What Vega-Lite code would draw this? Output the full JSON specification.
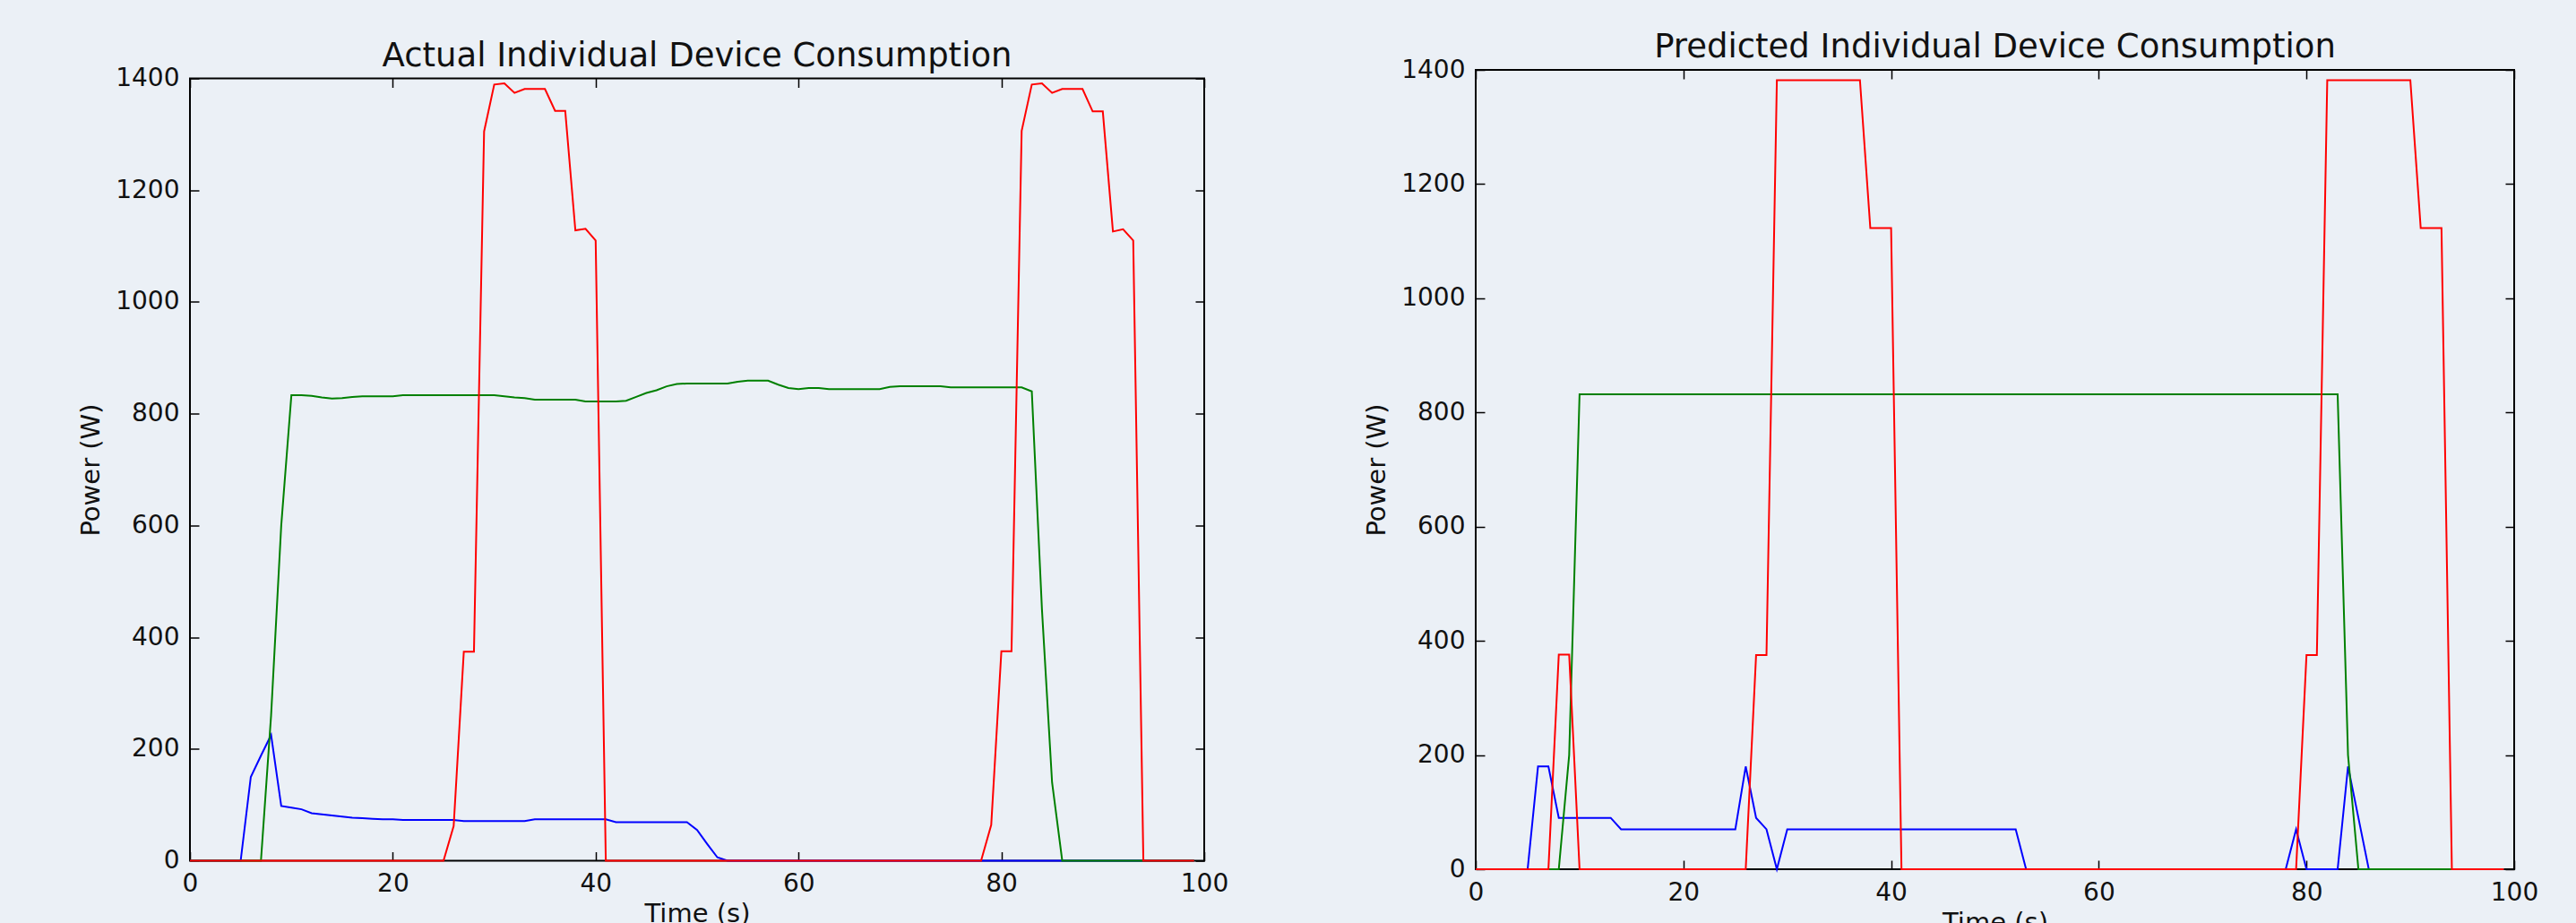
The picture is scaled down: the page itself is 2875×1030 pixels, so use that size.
{
  "$schema": "https://vega.github.io/schema/vega-lite/v6.json",
  "background": "#EBF0F6",
  "padding": {"left": 86, "top": 33, "right": 41, "bottom": 5},
  "spacing": 149,
  "center": true,
  "datasets": {
    "actual": [
      {"t":0,"b":0,"g":0,"r":0},{"t":1,"b":0,"g":0,"r":0},{"t":2,"b":0,"g":0,"r":0},{"t":3,"b":0,"g":0,"r":0},{"t":4,"b":0,"g":0,"r":0},
      {"t":5,"b":0,"g":0,"r":0},{"t":6,"b":150,"g":0,"r":0},{"t":7,"b":188,"g":0,"r":0},{"t":8,"b":225,"g":260,"r":0},{"t":9,"b":98,"g":600,"r":0},
      {"t":10,"b":95,"g":833,"r":0},{"t":11,"b":92,"g":833,"r":0},{"t":12,"b":85,"g":832,"r":0},{"t":13,"b":83,"g":829,"r":0},{"t":14,"b":81,"g":827,"r":0},
      {"t":15,"b":79,"g":828,"r":0},{"t":16,"b":77,"g":830,"r":0},{"t":17,"b":76,"g":831,"r":0},{"t":18,"b":75,"g":831,"r":0},{"t":19,"b":74,"g":831,"r":0},
      {"t":20,"b":74,"g":831,"r":0},{"t":21,"b":73,"g":833,"r":0},{"t":22,"b":73,"g":833,"r":0},{"t":23,"b":73,"g":833,"r":0},{"t":24,"b":73,"g":833,"r":0},
      {"t":25,"b":73,"g":833,"r":0},{"t":26,"b":73,"g":833,"r":62},{"t":27,"b":71,"g":833,"r":374},{"t":28,"b":71,"g":833,"r":374},{"t":29,"b":71,"g":833,"r":1305},
      {"t":30,"b":71,"g":833,"r":1389},{"t":31,"b":71,"g":831,"r":1391},{"t":32,"b":71,"g":829,"r":1374},{"t":33,"b":71,"g":828,"r":1381},{"t":34,"b":74,"g":825,"r":1381},
      {"t":35,"b":74,"g":825,"r":1381},{"t":36,"b":74,"g":825,"r":1342},{"t":37,"b":74,"g":825,"r":1342},{"t":38,"b":74,"g":825,"r":1128},{"t":39,"b":74,"g":822,"r":1131},
      {"t":40,"b":74,"g":822,"r":1110},{"t":41,"b":74,"g":822,"r":0},{"t":42,"b":69,"g":822,"r":0},{"t":43,"b":69,"g":823,"r":0},{"t":44,"b":69,"g":830,"r":0},
      {"t":45,"b":69,"g":837,"r":0},{"t":46,"b":69,"g":842,"r":0},{"t":47,"b":69,"g":849,"r":0},{"t":48,"b":69,"g":853,"r":0},{"t":49,"b":69,"g":854,"r":0},
      {"t":50,"b":55,"g":854,"r":0},{"t":51,"b":30,"g":854,"r":0},{"t":52,"b":6,"g":854,"r":0},{"t":53,"b":0,"g":854,"r":0},{"t":54,"b":0,"g":857,"r":0},
      {"t":55,"b":0,"g":859,"r":0},{"t":56,"b":0,"g":859,"r":0},{"t":57,"b":0,"g":859,"r":0},{"t":58,"b":0,"g":852,"r":0},{"t":59,"b":0,"g":846,"r":0},
      {"t":60,"b":0,"g":844,"r":0},{"t":61,"b":0,"g":846,"r":0},{"t":62,"b":0,"g":846,"r":0},{"t":63,"b":0,"g":844,"r":0},{"t":64,"b":0,"g":844,"r":0},
      {"t":65,"b":0,"g":844,"r":0},{"t":66,"b":0,"g":844,"r":0},{"t":67,"b":0,"g":844,"r":0},{"t":68,"b":0,"g":844,"r":0},{"t":69,"b":0,"g":848,"r":0},
      {"t":70,"b":0,"g":849,"r":0},{"t":71,"b":0,"g":849,"r":0},{"t":72,"b":0,"g":849,"r":0},{"t":73,"b":0,"g":849,"r":0},{"t":74,"b":0,"g":849,"r":0},
      {"t":75,"b":0,"g":847,"r":0},{"t":76,"b":0,"g":847,"r":0},{"t":77,"b":0,"g":847,"r":0},{"t":78,"b":0,"g":847,"r":0},{"t":79,"b":0,"g":847,"r":64},
      {"t":80,"b":0,"g":847,"r":375},{"t":81,"b":0,"g":847,"r":375},{"t":82,"b":0,"g":847,"r":1306},{"t":83,"b":0,"g":840,"r":1389},{"t":84,"b":0,"g":450,"r":1391},
      {"t":85,"b":0,"g":140,"r":1374},{"t":86,"b":0,"g":0,"r":1381},{"t":87,"b":0,"g":0,"r":1381},{"t":88,"b":0,"g":0,"r":1381},{"t":89,"b":0,"g":0,"r":1341},
      {"t":90,"b":0,"g":0,"r":1341},{"t":91,"b":0,"g":0,"r":1126},{"t":92,"b":0,"g":0,"r":1130},{"t":93,"b":0,"g":0,"r":1110},{"t":94,"b":0,"g":0,"r":0},
      {"t":95,"b":0,"g":0,"r":0},{"t":96,"b":0,"g":0,"r":0},{"t":97,"b":0,"g":0,"r":0},{"t":98,"b":0,"g":0,"r":0},{"t":99,"b":0,"g":0,"r":0}
    ],
    "predicted": [
      {"t":0,"b":0,"g":0,"r":0},{"t":1,"b":0,"g":0,"r":0},{"t":2,"b":0,"g":0,"r":0},{"t":3,"b":0,"g":0,"r":0},{"t":4,"b":0,"g":0,"r":0},
      {"t":5,"b":0,"g":0,"r":0},{"t":6,"b":180,"g":0,"r":0},{"t":7,"b":180,"g":0,"r":0},{"t":8,"b":90,"g":0,"r":376},{"t":9,"b":90,"g":200,"r":376},
      {"t":10,"b":90,"g":832,"r":0},{"t":11,"b":90,"g":832,"r":0},{"t":12,"b":90,"g":832,"r":0},{"t":13,"b":90,"g":832,"r":0},{"t":14,"b":70,"g":832,"r":0},
      {"t":15,"b":70,"g":832,"r":0},{"t":16,"b":70,"g":832,"r":0},{"t":17,"b":70,"g":832,"r":0},{"t":18,"b":70,"g":832,"r":0},{"t":19,"b":70,"g":832,"r":0},
      {"t":20,"b":70,"g":832,"r":0},{"t":21,"b":70,"g":832,"r":0},{"t":22,"b":70,"g":832,"r":0},{"t":23,"b":70,"g":832,"r":0},{"t":24,"b":70,"g":832,"r":0},
      {"t":25,"b":70,"g":832,"r":0},{"t":26,"b":180,"g":832,"r":0},{"t":27,"b":90,"g":832,"r":375},{"t":28,"b":70,"g":832,"r":375},{"t":29,"b":0,"g":832,"r":1382},
      {"t":30,"b":70,"g":832,"r":1382},{"t":31,"b":70,"g":832,"r":1382},{"t":32,"b":70,"g":832,"r":1382},{"t":33,"b":70,"g":832,"r":1382},{"t":34,"b":70,"g":832,"r":1382},
      {"t":35,"b":70,"g":832,"r":1382},{"t":36,"b":70,"g":832,"r":1382},{"t":37,"b":70,"g":832,"r":1382},{"t":38,"b":70,"g":832,"r":1123},{"t":39,"b":70,"g":832,"r":1123},
      {"t":40,"b":70,"g":832,"r":1123},{"t":41,"b":70,"g":832,"r":0},{"t":42,"b":70,"g":832,"r":0},{"t":43,"b":70,"g":832,"r":0},{"t":44,"b":70,"g":832,"r":0},
      {"t":45,"b":70,"g":832,"r":0},{"t":46,"b":70,"g":832,"r":0},{"t":47,"b":70,"g":832,"r":0},{"t":48,"b":70,"g":832,"r":0},{"t":49,"b":70,"g":832,"r":0},
      {"t":50,"b":70,"g":832,"r":0},{"t":51,"b":70,"g":832,"r":0},{"t":52,"b":70,"g":832,"r":0},{"t":53,"b":0,"g":832,"r":0},{"t":54,"b":0,"g":832,"r":0},
      {"t":55,"b":0,"g":832,"r":0},{"t":56,"b":0,"g":832,"r":0},{"t":57,"b":0,"g":832,"r":0},{"t":58,"b":0,"g":832,"r":0},{"t":59,"b":0,"g":832,"r":0},
      {"t":60,"b":0,"g":832,"r":0},{"t":61,"b":0,"g":832,"r":0},{"t":62,"b":0,"g":832,"r":0},{"t":63,"b":0,"g":832,"r":0},{"t":64,"b":0,"g":832,"r":0},
      {"t":65,"b":0,"g":832,"r":0},{"t":66,"b":0,"g":832,"r":0},{"t":67,"b":0,"g":832,"r":0},{"t":68,"b":0,"g":832,"r":0},{"t":69,"b":0,"g":832,"r":0},
      {"t":70,"b":0,"g":832,"r":0},{"t":71,"b":0,"g":832,"r":0},{"t":72,"b":0,"g":832,"r":0},{"t":73,"b":0,"g":832,"r":0},{"t":74,"b":0,"g":832,"r":0},
      {"t":75,"b":0,"g":832,"r":0},{"t":76,"b":0,"g":832,"r":0},{"t":77,"b":0,"g":832,"r":0},{"t":78,"b":0,"g":832,"r":0},{"t":79,"b":70,"g":832,"r":0},
      {"t":80,"b":0,"g":832,"r":375},{"t":81,"b":0,"g":832,"r":375},{"t":82,"b":0,"g":832,"r":1382},{"t":83,"b":0,"g":832,"r":1382},{"t":84,"b":180,"g":200,"r":1382},
      {"t":85,"b":90,"g":0,"r":1382},{"t":86,"b":0,"g":0,"r":1382},{"t":87,"b":0,"g":0,"r":1382},{"t":88,"b":0,"g":0,"r":1382},{"t":89,"b":0,"g":0,"r":1382},
      {"t":90,"b":0,"g":0,"r":1382},{"t":91,"b":0,"g":0,"r":1123},{"t":92,"b":0,"g":0,"r":1123},{"t":93,"b":0,"g":0,"r":1123},{"t":94,"b":0,"g":0,"r":0},
      {"t":95,"b":0,"g":0,"r":0},{"t":96,"b":0,"g":0,"r":0},{"t":97,"b":0,"g":0,"r":0},{"t":98,"b":0,"g":0,"r":0},{"t":99,"b":0,"g":0,"r":0}
    ]
  },
  "hconcat": [
    {
      "width": 1132,
      "height": 873,
      "title": {"text": "Actual Individual Device Consumption"},
      "data": {"name": "actual"},
      "transform": [{"fold": ["b", "g", "r"], "as": ["device", "power"]}],
      "resolve": {"axis": {"x": "independent", "y": "independent"}},
      "layer": [
        {
          "mark": {"type": "line", "strokeWidth": 2},
          "encoding": {
            "x": {"field": "t", "type": "quantitative", "scale": {"domain": [0, 100], "nice": false}, "axis": {"orient": "bottom", "title": "Time (s)", "values": [0, 20, 40, 60, 80, 100]}},
            "y": {"field": "power", "type": "quantitative", "scale": {"domain": [0, 1400], "nice": false}, "axis": {"orient": "left", "title": "Power (W)", "format": "d", "values": [0, 200, 400, 600, 800, 1000, 1200, 1400]}},
            "color": {"field": "device", "type": "nominal", "scale": {"domain": ["b", "g", "r"], "range": ["#0000ff", "#008000", "#ff0000"]}, "legend": null}
          }
        },
        {
          "mark": {"type": "line", "opacity": 0},
          "encoding": {
            "x": {"field": "t", "type": "quantitative", "axis": {"orient": "top", "labels": false, "title": null, "values": [0, 20, 40, 60, 80, 100]}},
            "y": {"field": "power", "type": "quantitative", "axis": {"orient": "right", "labels": false, "title": null, "values": [0, 200, 400, 600, 800, 1000, 1200, 1400]}}
          }
        }
      ]
    },
    {
      "width": 1159,
      "height": 892,
      "title": {"text": "Predicted Individual Device Consumption"},
      "data": {"name": "predicted"},
      "transform": [{"fold": ["b", "g", "r"], "as": ["device", "power"]}],
      "resolve": {"axis": {"x": "independent", "y": "independent"}},
      "layer": [
        {
          "mark": {"type": "line", "strokeWidth": 2},
          "encoding": {
            "x": {"field": "t", "type": "quantitative", "scale": {"domain": [0, 100], "nice": false}, "axis": {"orient": "bottom", "title": "Time (s)", "values": [0, 20, 40, 60, 80, 100]}},
            "y": {"field": "power", "type": "quantitative", "scale": {"domain": [0, 1400], "nice": false}, "axis": {"orient": "left", "title": "Power (W)", "format": "d", "values": [0, 200, 400, 600, 800, 1000, 1200, 1400]}},
            "color": {"field": "device", "type": "nominal", "scale": {"domain": ["b", "g", "r"], "range": ["#0000ff", "#008000", "#ff0000"]}, "legend": null}
          }
        },
        {
          "mark": {"type": "line", "opacity": 0},
          "encoding": {
            "x": {"field": "t", "type": "quantitative", "axis": {"orient": "top", "labels": false, "title": null, "values": [0, 20, 40, 60, 80, 100]}},
            "y": {"field": "power", "type": "quantitative", "axis": {"orient": "right", "labels": false, "title": null, "values": [0, 200, 400, 600, 800, 1000, 1200, 1400]}}
          }
        }
      ]
    }
  ],
  "config": {
    "font": "DejaVu Sans",
    "view": {"stroke": "#000000", "strokeWidth": 2},
    "axis": {
      "domain": false,
      "grid": false,
      "tickColor": "#000000",
      "tickWidth": 1.5,
      "tickSize": -10,
      "labelPadding": 22,
      "labelFontSize": 28,
      "labelColor": "#111111",
      "labelFlush": false,
      "labelOverlap": false,
      "titleFontSize": 29,
      "titleFontWeight": "normal",
      "titleColor": "#111111"
    },
    "axisX": {"titlePadding": 5},
    "axisY": {"titlePadding": 12},
    "title": {"fontSize": 37, "fontWeight": "normal", "color": "#111111", "offset": -8, "baseline": "alphabetic"}
  }
}
